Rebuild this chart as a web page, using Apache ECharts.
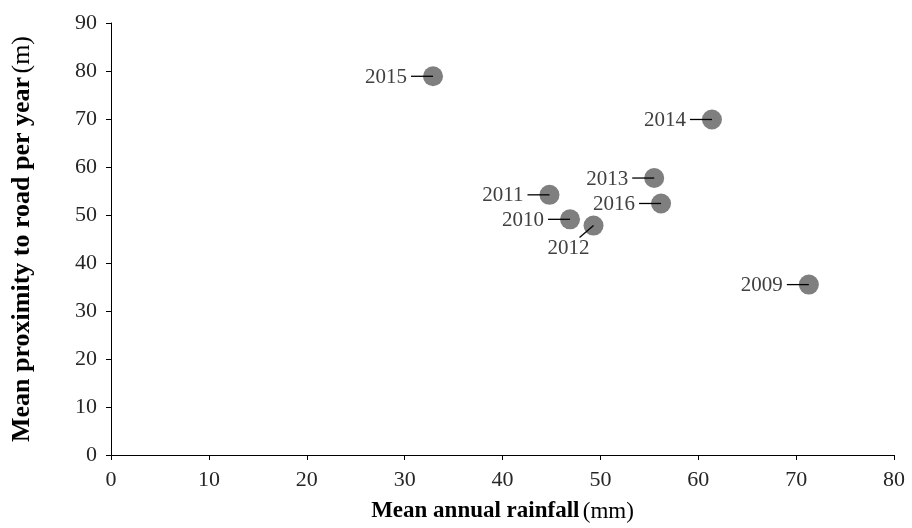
<!DOCTYPE html>
<html>
<head>
<meta charset="utf-8">
<script src="https://cdn.jsdelivr.net/npm/echarts@6/dist/echarts.min.js"></script>
<style>
  html, body { margin: 0; padding: 0; background: #fff; }
  #chart { width: 912px; height: 528px; }
</style>
</head>
<body>
<div id="chart"></div>
<script>
// Yearly means: rainfall (mm) vs. proximity to road (m)
const years = ['2009', '2010', '2011', '2012', '2013', '2014', '2015', '2016'];
const rainfall = [71.3, 46.9, 44.8, 49.3, 55.5, 61.4, 32.9, 56.2];
const proximity = [35.5, 49.1, 54.2, 47.8, 57.7, 69.9, 78.9, 52.4];
// where each year's label sits relative to its point
const labelSide = ['left', 'left', 'left', 'below', 'left', 'left', 'left', 'left'];

const xMin = 0, xMax = 80, xStep = 10;
const yMin = 0, yMax = 90, yStep = 10;

const serif = '"Liberation Serif", "Times New Roman", serif';
const points = years.map((y, i) => [rainfall[i], proximity[i], y, labelSide[i]]);

const chart = echarts.init(document.getElementById('chart'), null, { renderer: 'canvas' });

function renderPoint(params, api) {
  const c = api.coord([api.value(0), api.value(1)]);
  const side = points[params.dataIndex][3];
  const label = points[params.dataIndex][2];
  let line, text;
  if (side === 'below') {
    line = { x1: c[0], y1: c[1], x2: c[0] - 14, y2: c[1] + 12 };
    text = { x: c[0] - 25, y: c[1] + 23, align: 'center' };
  } else {
    line = { x1: c[0], y1: c[1], x2: c[0] - 22, y2: c[1] };
    text = { x: c[0] - 26, y: c[1] + 1, align: 'right' };
  }
  return {
    type: 'group',
    children: [
      { type: 'circle', shape: { cx: c[0], cy: c[1], r: 10 }, style: { fill: '#7f7f7f' } },
      { type: 'line', shape: line, style: { stroke: '#000', lineWidth: 1.3 } },
      {
        type: 'text',
        style: {
          x: text.x, y: text.y, text: label,
          align: text.align, verticalAlign: 'middle',
          font: '21px ' + serif, fill: '#404040'
        }
      }
    ]
  };
}

chart.setOption({
  animation: false,
  backgroundColor: '#fff',
  grid: { left: 111, right: 18, top: 23, bottom: 73, containLabel: false },
  xAxis: {
    type: 'value', min: xMin, max: xMax, interval: xStep,
    name: '{b|Mean annual rainfall} {n|(mm)}',
    nameLocation: 'middle', nameGap: 45,
    nameTextStyle: {
      rich: {
        b: { fontFamily: serif, fontSize: 23, fontWeight: 'bold', color: '#000' },
        n: { fontFamily: serif, fontSize: 23, color: '#000' }
      }
    },
    axisLine: { show: true, lineStyle: { color: '#000', width: 1 } },
    axisTick: { show: true, length: 5, lineStyle: { color: '#000' } },
    axisLabel: { fontFamily: serif, fontSize: 22, color: '#262626', margin: 14 },
    splitLine: { show: false }
  },
  yAxis: {
    type: 'value', min: yMin, max: yMax, interval: yStep,
    name: '{b|Mean proximity to road per year} {n|(m)}',
    nameLocation: 'middle', nameGap: 76, nameRotate: 90,
    nameTextStyle: {
      rich: {
        b: { fontFamily: serif, fontSize: 26, fontWeight: 'bold', color: '#000' },
        n: { fontFamily: serif, fontSize: 26, color: '#000' }
      }
    },
    axisLine: { show: true, lineStyle: { color: '#000', width: 1 } },
    axisTick: { show: true, length: 5, lineStyle: { color: '#000' } },
    axisLabel: { fontFamily: serif, fontSize: 22, color: '#262626', margin: 14 },
    splitLine: { show: false }
  },
  series: [{
    type: 'custom',
    renderItem: renderPoint,
    encode: { x: 0, y: 1 },
    data: points.map(p => [p[0], p[1]])
  }]
});
</script>
</body>
</html>
